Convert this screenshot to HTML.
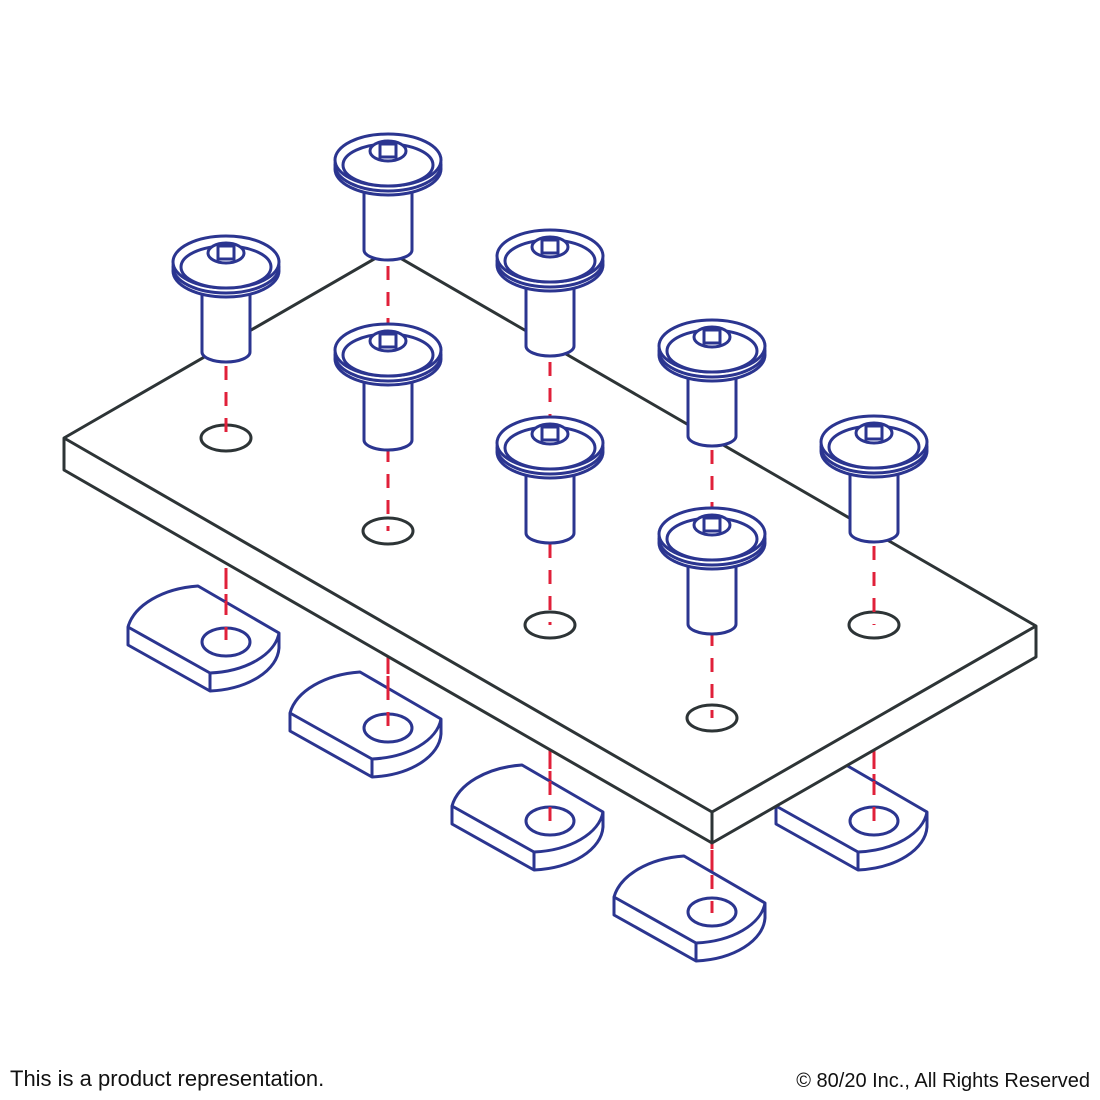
<!DOCTYPE html>
<html><head><style>
html,body{margin:0;padding:0;background:#fff;width:1100px;height:1100px;overflow:hidden;position:relative;font-family:"Liberation Sans",sans-serif}
.t{position:absolute;top:1066px;font-size:22px;color:#111}
</style></head><body>
<svg width="1100" height="1100" viewBox="0 0 1100 1100" style="position:absolute;left:0;top:0">
<defs>
<g id="nut" fill="#fff" stroke="#2b3590" stroke-width="3" stroke-linejoin="round">
  <path d="M-98,-16 V2 L-16,48 A75,45 0 0 0 53,5 V-10 L-28,-57 A80,50 0 0 0 -98,-16 Z"/>
  <path d="M-98,-16 L-16,30 A75,45 0 0 0 53,-10" fill="none"/>
  <path d="M-16,30 V48" fill="none"/>
  <ellipse cx="0" cy="-1" rx="24" ry="14"/>
</g>
<g id="bolt" fill="#fff" stroke="#2b3590" stroke-width="3">
  <path d="M-24,30 V90 A24,10 0 0 0 24,90 V30 Z"/>
  <ellipse cx="0" cy="9" rx="53" ry="26"/>
  <ellipse cx="0" cy="5" rx="53" ry="26"/>
  <ellipse cx="0" cy="0" rx="53" ry="26"/>
  <ellipse cx="0" cy="5" rx="45" ry="21"/>
  <ellipse cx="0" cy="-9" rx="18" ry="10"/>
  <path d="M-8,-16 V-3 H8 V-16 Z" fill="none"/>
</g>
</defs>
<g stroke="#e0203a" stroke-width="3" stroke-dasharray="14,12">
  <line x1="226" y1="360" x2="226" y2="643"/>
  <line x1="388" y1="260" x2="388" y2="729"/>
  <line x1="550" y1="355" x2="550" y2="822"/>
  <line x1="712" y1="445" x2="712" y2="913"/>
  <line x1="874" y1="540" x2="874" y2="822"/>
</g>
<use href="#nut" x="226" y="643"/>
<use href="#nut" x="388" y="729"/>
<use href="#nut" x="550" y="822"/>
<use href="#nut" x="874" y="822"/>
<g stroke="#e0203a" stroke-width="3" stroke-dasharray="14,12">
  <line x1="226" y1="575" x2="226" y2="640"/>
  <line x1="388" y1="660" x2="388" y2="729"/>
  <line x1="550" y1="755" x2="550" y2="822"/>
  <line x1="874" y1="755" x2="874" y2="822"/>
</g>
<g fill="#fff" stroke="#2d3436" stroke-width="3" stroke-linejoin="round">
  <path d="M64,438 L388,251 L1036,626 V657 L712,843 L64,470 Z"/>
  <path d="M64,438 L712,812 L1036,626 M712,812 V843" fill="none"/>
  <ellipse cx="226" cy="438" rx="25" ry="13"/>
  <ellipse cx="388" cy="531" rx="25" ry="13"/>
  <ellipse cx="550" cy="625" rx="25" ry="13"/>
  <ellipse cx="712" cy="718" rx="25" ry="13"/>
  <ellipse cx="874" cy="625" rx="25" ry="13"/>
</g>
<g stroke="#e0203a" stroke-width="3" stroke-dasharray="14,12">
  <line x1="226" y1="366" x2="226" y2="438"/>
  <line x1="388" y1="266" x2="388" y2="531"/>
  <line x1="550" y1="362" x2="550" y2="625"/>
  <line x1="712" y1="450" x2="712" y2="718"/>
  <line x1="874" y1="546" x2="874" y2="625"/>
  <line x1="712" y1="850" x2="712" y2="913"/>
</g>
<use href="#nut" x="712" y="913"/>
<line x1="712" y1="875" x2="712" y2="913" stroke="#e0203a" stroke-width="3" stroke-dasharray="14,12"/>
<use href="#bolt" x="388" y="160"/>
<use href="#bolt" x="550" y="256"/>
<use href="#bolt" x="226" y="262"/>
<use href="#bolt" x="712" y="346"/>
<use href="#bolt" x="388" y="350"/>
<use href="#bolt" x="874" y="442"/>
<use href="#bolt" x="550" y="443"/>
<use href="#bolt" x="712" y="534"/>
</svg>
<div class="t" style="left:10px">This is a product representation.</div>
<div class="t" style="right:10px;top:1070px;font-size:20px">© 80/20 Inc., All Rights Reserved</div>
</body></html>
